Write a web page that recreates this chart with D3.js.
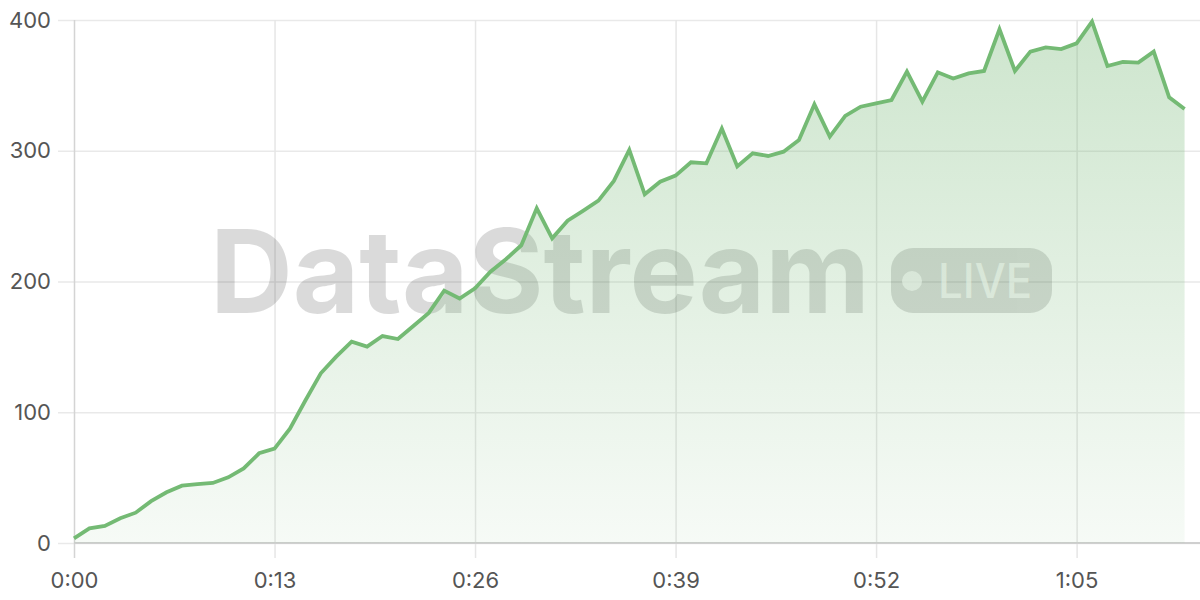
<!DOCTYPE html>
<html><head><meta charset="utf-8">
<script src="https://cdn.jsdelivr.net/npm/d3@7"></script>
<style>html,body{margin:0;padding:0;background:#fff;}svg{display:block;}</style>
</head><body>
<svg id="chart" width="1200" height="600"></svg>
<script>
const seconds = d3.range(0, 73);
const values = [3.6,11.2,13,18.9,23.2,32,38.8,43.8,45,45.9,50.2,57,68.6,72.2,87.5,109,129.8,142.5,154,150.2,158.3,156,166,176,193,187,194.8,207.5,217,227.7,256,233,246.5,254,261.8,276.9,300.6,266.7,276.3,281,291.2,290.4,317,288,298,296,299.3,308.2,335.5,310.8,326.6,333.7,336.3,338.8,360.5,337.5,360,355.2,359.2,361,392.9,361,375.8,379,377.8,382.1,398.7,364.8,368,367.4,375.8,340.9,331.9];
const yTicks = [0,100,200,300,400];
const xTicks = [0,13,26,39,52,65];
const watermark = "DataStream";
const badgeText = "LIVE";

(function(){
const svg = d3.select("#chart");
const mL = 74, mR = 1200, mT = 20, mB = 543;
const x = d3.scaleLinear().domain([0,73]).range([mL,mR]);
const y = d3.scaleLinear().domain([0,400]).range([mB,mT]);
const font = "Inter, 'Noto Sans', sans-serif";
const fmt = s => Math.floor(s/60) + ":" + String(s%60).padStart(2,"0");

const defs = svg.append("defs");
const grad = defs.append("linearGradient").attr("id","ag").attr("gradientUnits","userSpaceOnUse")
  .attr("x1",0).attr("x2",0).attr("y1",mT).attr("y2",mB);
grad.append("stop").attr("offset","0%").attr("stop-color","#6db36d").attr("stop-opacity",0.34);
grad.append("stop").attr("offset","100%").attr("stop-color","#6db36d").attr("stop-opacity",0.06);

const yAxis = d3.axisLeft(y).tickValues(yTicks).tickSize(-(mR-mL)).tickPadding(8);
const gy = svg.append("g").attr("transform",`translate(${mL},0)`).call(yAxis);
gy.select(".domain").remove();
gy.selectAll(".tick line").attr("stroke","#e9e9e9").attr("stroke-width",1.5).attr("x1",-16);
gy.selectAll(".tick text").attr("x",-23).attr("fill","#555").style("font-size","22px").style("font-family",font);

const xAxis = d3.axisBottom(x).tickValues(xTicks).tickFormat(fmt).tickSize(-(mB-mT)).tickPadding(0);
const gx = svg.append("g").attr("transform",`translate(0,${mB})`).call(xAxis);
gx.select(".domain").remove();
gx.selectAll(".tick line").attr("stroke","#e6e6e6").attr("stroke-width",1.5).attr("y1",15);
gx.selectAll(".tick text").attr("y",37).attr("dy","0.35em").attr("fill","#555").style("font-size","22px").style("font-family",font);
gx.selectAll(".tick").filter(d=>d===0).select("line").attr("stroke","#d4d4d4");

svg.append("line").attr("x1",mL).attr("x2",mR).attr("y1",mB).attr("y2",mB).attr("stroke","#cfcfcf").attr("stroke-width",2);

const wm = svg.append("g").attr("opacity",0.14);
wm.append("text").attr("x",210).attr("y",313).attr("textLength",660).attr("lengthAdjust","spacingAndGlyphs")
  .style("font-family",font).style("font-weight",700).style("font-size","116px").attr("fill","#000").text(watermark);
wm.append("rect").attr("x",891).attr("y",248).attr("width",161).attr("height",65).attr("rx",22).attr("fill","#000");
const badge = svg.append("g").attr("opacity",0.7);
badge.append("circle").attr("cx",912).attr("cy",281).attr("r",10).attr("fill","#fff");
badge.append("text").attr("x",938).attr("y",298).attr("textLength",94).attr("lengthAdjust","spacingAndGlyphs")
  .style("font-family",font).style("font-weight",500).style("font-size","48px").attr("fill","#fff").text(badgeText);

const data = seconds.map((s,i)=>({s, v: values[i]}));
svg.append("path").datum(data).attr("fill","url(#ag)")
  .attr("d", d3.area().x(d=>x(d.s)).y0(y(0)).y1(d=>y(d.v)));
svg.append("path").datum(data).attr("fill","none").attr("stroke","#74ba74").attr("stroke-width",3.8)
  .attr("stroke-linejoin","miter").attr("d", d3.line().x(d=>x(d.s)).y(d=>y(d.v)));
})();
</script>
</body></html>
